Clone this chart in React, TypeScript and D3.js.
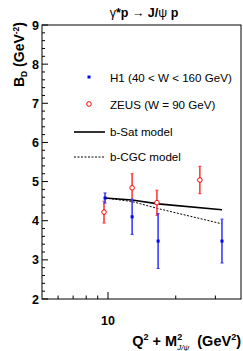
import React, { useEffect, useRef } from "react";
import * as d3 from "d3";

// H1 (40 < W < 160 GeV)
const h1Q = [9.7, 12.8, 16.7, 32.1];
const h1B = [4.58, 4.1, 3.48, 3.48];
const h1Err = [0.13, 0.45, 0.7, 0.56];

// ZEUS (W = 90 GeV)
const zeusQ = [9.6, 12.8, 16.5, 25.6];
const zeusB = [4.22, 4.84, 4.46, 5.04];
const zeusErr = [0.28, 0.36, 0.32, 0.35];

// model curves
const modelQ = [9.7, 12.8, 16.7, 32.1];
const bSat = [4.58, 4.53, 4.43, 4.28];
const bCgc = [4.58, 4.49, 4.31, 3.92];

const yTicks = [2, 3, 4, 5, 6, 7, 8, 9];
const xMinor = [6, 7, 8, 9, 20, 30];

const FONT = "'Liberation Sans', Arial, Helvetica, sans-serif";

const App = () => {
  const ref = useRef<SVGSVGElement>(null);

  useEffect(() => {
    const width = 243;
    const height = 351;
    const frame = { left: 42, right: 241, top: 25, bottom: 299 };

    const svg = d3.select(ref.current);
    svg.selectAll("*").remove();
    svg.attr("width", width).attr("height", height);

    const x = d3
      .scaleLog()
      .domain([5.09, 39.0])
      .range([frame.left, frame.right]);
    const y = d3.scaleLinear().domain([2, 9]).range([frame.bottom, frame.top]);

    // frame
    svg
      .append("rect")
      .attr("x", frame.left)
      .attr("y", frame.top)
      .attr("width", frame.right - frame.left)
      .attr("height", frame.bottom - frame.top)
      .attr("fill", "none")
      .attr("stroke", "#000")
      .attr("stroke-width", 1);

    // y ticks (major + minor every 0.2), pointing inwards
    const yMinor = d3.range(2, 9.001, 0.2);
    svg
      .append("g")
      .selectAll("line")
      .data(yMinor)
      .enter()
      .append("line")
      .attr("x1", frame.left)
      .attr("x2", (d) =>
        Math.abs(d - Math.round(d)) < 0.01 ? frame.left + 6 : frame.left + 3
      )
      .attr("y1", (d) => y(d))
      .attr("y2", (d) => y(d))
      .attr("stroke", "#000");

    svg
      .append("g")
      .selectAll("text")
      .data(yTicks)
      .enter()
      .append("text")
      .attr("x", frame.left - 3)
      .attr("y", (d) => y(d) + 4.5)
      .attr("text-anchor", "end")
      .attr("font-family", FONT)
      .attr("font-weight", "bold")
      .attr("font-size", 12.5)
      .text((d) => d);

    // x ticks
    svg
      .append("line")
      .attr("x1", x(10))
      .attr("x2", x(10))
      .attr("y1", frame.bottom)
      .attr("y2", frame.bottom - 7)
      .attr("stroke", "#000");
    svg
      .append("g")
      .selectAll("line")
      .data(xMinor)
      .enter()
      .append("line")
      .attr("x1", (d) => x(d))
      .attr("x2", (d) => x(d))
      .attr("y1", frame.bottom)
      .attr("y2", frame.bottom - 3.5)
      .attr("stroke", "#000");
    svg
      .append("text")
      .attr("x", x(10))
      .attr("y", 325)
      .attr("text-anchor", "middle")
      .attr("font-family", FONT)
      .attr("font-weight", "bold")
      .attr("font-size", 12.5)
      .text("10");

    // model curves
    const line = d3
      .line<number>()
      .x((d, i) => x(modelQ[i]))
      .y((d) => y(d));
    svg
      .append("path")
      .attr("d", line(bSat))
      .attr("fill", "none")
      .attr("stroke", "#000")
      .attr("stroke-width", 1.6);
    svg
      .append("path")
      .attr("d", line(bCgc))
      .attr("fill", "none")
      .attr("stroke", "#000")
      .attr("stroke-width", 1)
      .attr("stroke-dasharray", "2,1.5");

    // error bars
    const drawErrors = (qs, bs, es, color) => {
      const g = svg.append("g");
      qs.forEach((q, i) => {
        const cx = x(q);
        g.append("line")
          .attr("x1", cx)
          .attr("x2", cx)
          .attr("y1", y(bs[i] + es[i]))
          .attr("y2", y(bs[i] - es[i]))
          .attr("stroke", color)
          .attr("stroke-width", 1.5);
        [bs[i] + es[i], bs[i] - es[i]].forEach((v) => {
          g.append("line")
            .attr("x1", cx - 1.5)
            .attr("x2", cx + 1.5)
            .attr("y1", y(v))
            .attr("y2", y(v))
            .attr("stroke", color)
            .attr("stroke-width", 1);
        });
      });
      return g;
    };

    drawErrors(zeusQ, zeusB, zeusErr, "#ff3030");
    drawErrors(h1Q, h1B, h1Err, "#3030ff");

    // H1 markers
    svg
      .append("g")
      .selectAll("rect")
      .data(h1Q)
      .enter()
      .append("rect")
      .attr("x", (d) => x(d) - 1.5)
      .attr("y", (d, i) => y(h1B[i]) - 1.5)
      .attr("width", 3)
      .attr("height", 3)
      .attr("fill", "#0000ff");

    // ZEUS markers
    svg
      .append("g")
      .selectAll("circle")
      .data(zeusQ)
      .enter()
      .append("circle")
      .attr("cx", (d) => x(d))
      .attr("cy", (d, i) => y(zeusB[i]))
      .attr("r", 2.3)
      .attr("fill", "#fff")
      .attr("stroke", "#ff0000")
      .attr("stroke-width", 1);

    // legend
    const legend = svg
      .append("g")
      .attr("font-family", FONT)
      .attr("font-size", 11.6);
    legend
      .append("rect")
      .attr("x", 87.5)
      .attr("y", 75.5)
      .attr("width", 3)
      .attr("height", 3)
      .attr("fill", "#0000ff");
    legend
      .append("text")
      .attr("x", 110)
      .attr("y", 82)
      .text("H1  (40 < W < 160 GeV)");
    legend
      .append("circle")
      .attr("cx", 89)
      .attr("cy", 104)
      .attr("r", 2.3)
      .attr("fill", "#fff")
      .attr("stroke", "#ff0000");
    legend
      .append("text")
      .attr("x", 110)
      .attr("y", 108.5)
      .text("ZEUS  (W = 90 GeV)");
    legend
      .append("line")
      .attr("x1", 74)
      .attr("x2", 105)
      .attr("y1", 132)
      .attr("y2", 132)
      .attr("stroke", "#000")
      .attr("stroke-width", 1.6);
    legend
      .append("text")
      .attr("x", 110)
      .attr("y", 136)
      .text("b-Sat model");
    legend
      .append("line")
      .attr("x1", 74)
      .attr("x2", 105)
      .attr("y1", 157)
      .attr("y2", 157)
      .attr("stroke", "#000")
      .attr("stroke-width", 1)
      .attr("stroke-dasharray", "2,1.5");
    legend
      .append("text")
      .attr("x", 110)
      .attr("y", 161)
      .text("b-CGC model");

    // title
    const title = svg
      .append("text")
      .attr("x", 144)
      .attr("y", 17)
      .attr("text-anchor", "middle")
      .attr("font-family", FONT)
      .attr("font-size", 12.5);
    title.append("tspan").text("γ");
    title.append("tspan").attr("font-weight", "bold").text("*p ");
    title.append("tspan").text("→");
    title.append("tspan").attr("font-weight", "bold").text(" J/");
    title.append("tspan").text("ψ");
    title.append("tspan").attr("font-weight", "bold").text(" p");

    // y title
    const yTitle = svg
      .append("text")
      .attr("transform", "translate(24,22) rotate(-90)")
      .attr("text-anchor", "end")
      .attr("font-family", FONT)
      .attr("font-weight", "bold")
      .attr("font-size", 14);
    yTitle.append("tspan").text("B");
    yTitle.append("tspan").attr("font-size", 8.5).attr("dy", 3).text("D");
    yTitle.append("tspan").attr("dy", -3).text(" (GeV");
    yTitle.append("tspan").attr("font-size", 8.5).attr("dy", -5).text("-2");
    yTitle.append("tspan").attr("dy", 5).text(")");

    // x title
    const xTitle = svg
      .append("text")
      .attr("x", 241)
      .attr("y", 346)
      .attr("text-anchor", "end")
      .attr("font-family", FONT)
      .attr("font-weight", "bold")
      .attr("font-size", 14.5);
    xTitle.append("tspan").text("Q");
    xTitle.append("tspan").attr("font-size", 9).attr("dy", -6).text("2");
    xTitle.append("tspan").attr("dy", 6).text(" + M");
    xTitle.append("tspan").attr("font-size", 9).attr("dy", -6).text("2");
    xTitle
      .append("tspan")
      .attr("font-size", 8)
      .attr("font-weight", "normal")
      .attr("font-style", "italic")
      .attr("dx", -5)
      .attr("dy", 10)
      .text("J/ψ");
    xTitle
      .append("tspan")
      .attr("dx", 4)
      .attr("dy", -4)
      .text("  (GeV");
    xTitle.append("tspan").attr("font-size", 9).attr("dy", -6).text("2");
    xTitle.append("tspan").attr("dy", 6).text(")");
  }, []);

  return (
    <svg
      ref={ref}
      style={{ position: "absolute", left: 0, top: 0, background: "#fff" }}
    ></svg>
  );
};

export default App;
